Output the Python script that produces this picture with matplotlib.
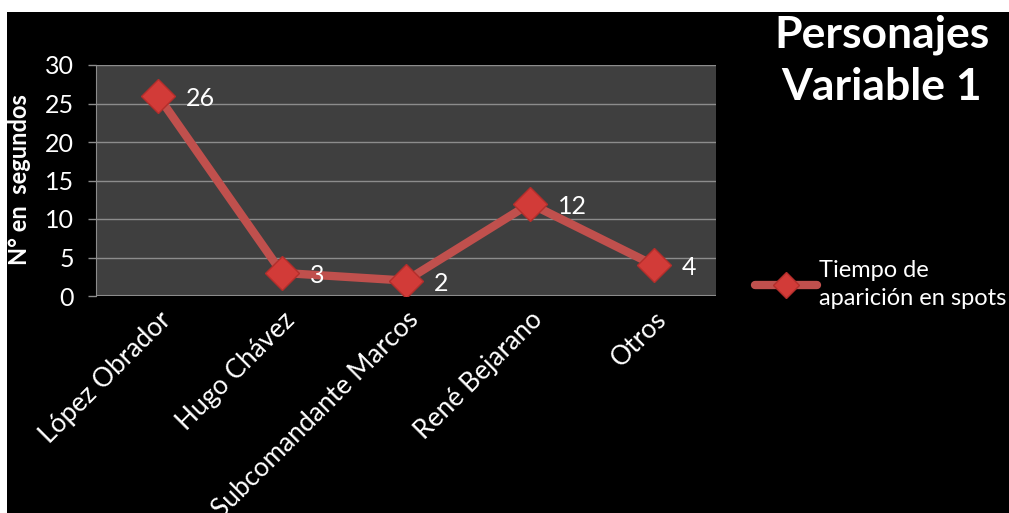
import matplotlib.pyplot as plt
from matplotlib.patches import Rectangle

# data
personajes = ["López Obrador", "Hugo Chávez", "Subcomandante Marcos", "René Bejarano", "Otros"]
segundos = [26, 3, 2, 12, 4]
serie = "Tiempo de\naparición en spots"

plt.rcParams['font.family'] = ['Lato', 'DejaVu Sans']

W, H = 1009, 513
fig = plt.figure(figsize=(W / 100, H / 100), dpi=100, facecolor='white')

# black slide background (white strip on top and left)
fig.patches.append(Rectangle((7 / W, 0), 1 - 7 / W, 1 - 12 / H, transform=fig.transFigure,
                             facecolor='black', edgecolor='none', zorder=-10))

ax = fig.add_axes([96 / W, 1 - 296 / H, 620 / W, 231 / H])
ax.set_facecolor('#3f3f3f')

x = range(len(personajes))
ax.plot(x, segundos, color='#c0504d', lw=6, marker='D', ms=17,
        markerfacecolor='#d23b38', markeredgecolor='#b32e2b', mew=1,
        label=serie, solid_capstyle='round', zorder=3)

for xi, v in zip(x, segundos):
    ax.annotate(str(v), (xi, v), xytext=(20, -2), textcoords='offset points',
                color='white', fontsize=18, va='center', ha='left')

ax.set_xlim(-0.5, len(personajes) - 0.5)
ax.set_ylim(0, 30)
ax.set_yticks(range(0, 31, 5))
ax.grid(axis='y', color='#8c8c8c', lw=1)
ax.set_axisbelow(True)

for s in ['top', 'right', 'bottom']:
    ax.spines[s].set_visible(False)
ax.spines['left'].set_color('#8c8c8c')
ax.axhline(0, color='#8c8c8c', lw=1.5, zorder=1)

ax.tick_params(axis='y', colors='white', labelsize=18, length=6, width=1, color='#8c8c8c', pad=10)
ax.tick_params(axis='x', length=0, pad=8)
ax.set_xticks(list(x))
ax.set_xticklabels(personajes, rotation=45, ha='right', rotation_mode='anchor',
                   color='white', fontsize=19)

fig.text(20 / W, 1 - 180 / H, "N° en  segundos", rotation=90, color='white',
         fontsize=17, fontweight='bold', ha='center', va='center')

fig.text(882 / W, 1 - 61 / H, "Personajes\nVariable 1", color='white', fontsize=32,
         fontweight='bold', ha='center', va='center', linespacing=1.35)

leg = ax.legend(loc='center left', bbox_to_anchor=(1.048, 0.05), frameon=False,
                fontsize=17, labelcolor='white', handlelength=2.6, handletextpad=0.1,
                borderaxespad=0, markerscale=0.8)
for t in leg.get_texts():
    t.set_linespacing(1.45)

fig.savefig('out.png', dpi=100, facecolor='white')
